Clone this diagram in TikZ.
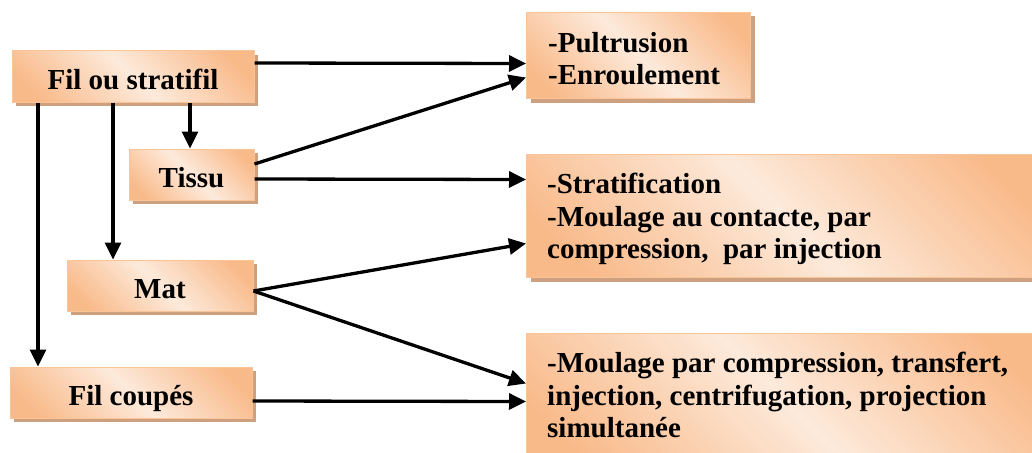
\documentclass[tikz,border=0pt]{standalone}
\usepackage{fontspec}
\setmainfont{Liberation Serif}
\usetikzlibrary{arrows.meta,shadows,calc}
\definecolor{bo}{RGB}{249,186,138}
\definecolor{bl}{RGB}{253,234,219}
\definecolor{bd}{RGB}{250,196,150}
\definecolor{sh}{RGB}{205,160,128}
\pgfdeclarehorizontalshading{boxgrad}{100bp}{color(0bp)=(bo); color(22bp)=(bo); color(50bp)=(bl); color(78bp)=(bo); color(100bp)=(bo)}
\tikzset{
  box/.style={draw=bd, line width=1pt, shading=boxgrad, shading angle=45,
    inner sep=0pt, copy shadow={shadow xshift=4pt, shadow yshift=-4pt, fill=sh, draw=none}},
  single/.style={box, anchor=center, text height=26pt, text depth=0pt,
    font=\fontsize{29}{33}\selectfont\bfseries},
  multi/.style={anchor=north west, align=left, inner sep=0pt,
    font=\fontsize{29}{32.5}\selectfont\bfseries},
  conn/.style={line width=3.3pt, -{Triangle[length=17pt,width=16pt]}},
}
\begin{document}
\begin{tikzpicture}[x=1pt,y=-1pt]
\useasboundingbox (0,0) rectangle (1032,452);
\clip (0,0) rectangle (1032,452);
% left boxes
\node[single, minimum width=242pt, minimum height=51pt] (A) at (133,76.5) {Fil ou stratifil};
\node[single, minimum width=125pt, minimum height=51pt] (B) at (191.5,174.5) {Tissu};
\node[single, minimum width=186pt, minimum height=51pt] (C) at (160,285.5) {Mat};
\node[single, minimum width=242pt, minimum height=51pt] (D) at (131,392.5) {Fil coupés};
% right boxes
\node[box, anchor=north west, minimum width=224pt, minimum height=86pt] (P) at (526,12) {};
\node[box, anchor=north west, minimum width=520pt, minimum height=123pt] (S) at (526,154) {};
\node[box, anchor=north west, minimum width=520pt, minimum height=137pt] (R) at (526,333) {};
\node[multi] (Pt) at ([xshift=22pt,yshift=-20pt]P.north west) {-Pultrusion\\-Enroulement};
\node[multi] (St) at ([xshift=21pt,yshift=-19pt]S.north west) {-Stratification\\-Moulage au contacte, par\\compression,\ \ par injection};
\node[multi] (Rt) at ([xshift=21pt,yshift=-19pt]R.north west) {-Moulage par compression, transfert,\\injection, centrifugation, projection\\simultanée};
% connectors
\draw[conn] ([yshift=13.5pt]A.east) -- ([yshift=-8pt]P.west);
\draw[conn] ([yshift=10.5pt]B.east) -- ([yshift=-22pt]P.west);
\draw[conn] ([yshift=-4.5pt]B.east) -- ([yshift=36.5pt]S.west);
\draw[conn] ([yshift=-5.5pt]C.east) -- ([yshift=-27.5pt]S.west);
\draw[conn] ([yshift=-5.5pt]C.east) -- ([yshift=18.5pt]R.west);
\draw[conn] ([yshift=-8.5pt]D.east) -- ([yshift=0.5pt]R.west);
\draw[conn] ([xshift=57pt]A.south) -- ([xshift=-1.5pt]B.north);
\draw[conn] ([xshift=-20pt]A.south) -- ([xshift=-47pt]C.north);
\draw[conn] ([xshift=-95pt]A.south) -- ([xshift=-93pt]D.north);
\end{tikzpicture}
\end{document}
